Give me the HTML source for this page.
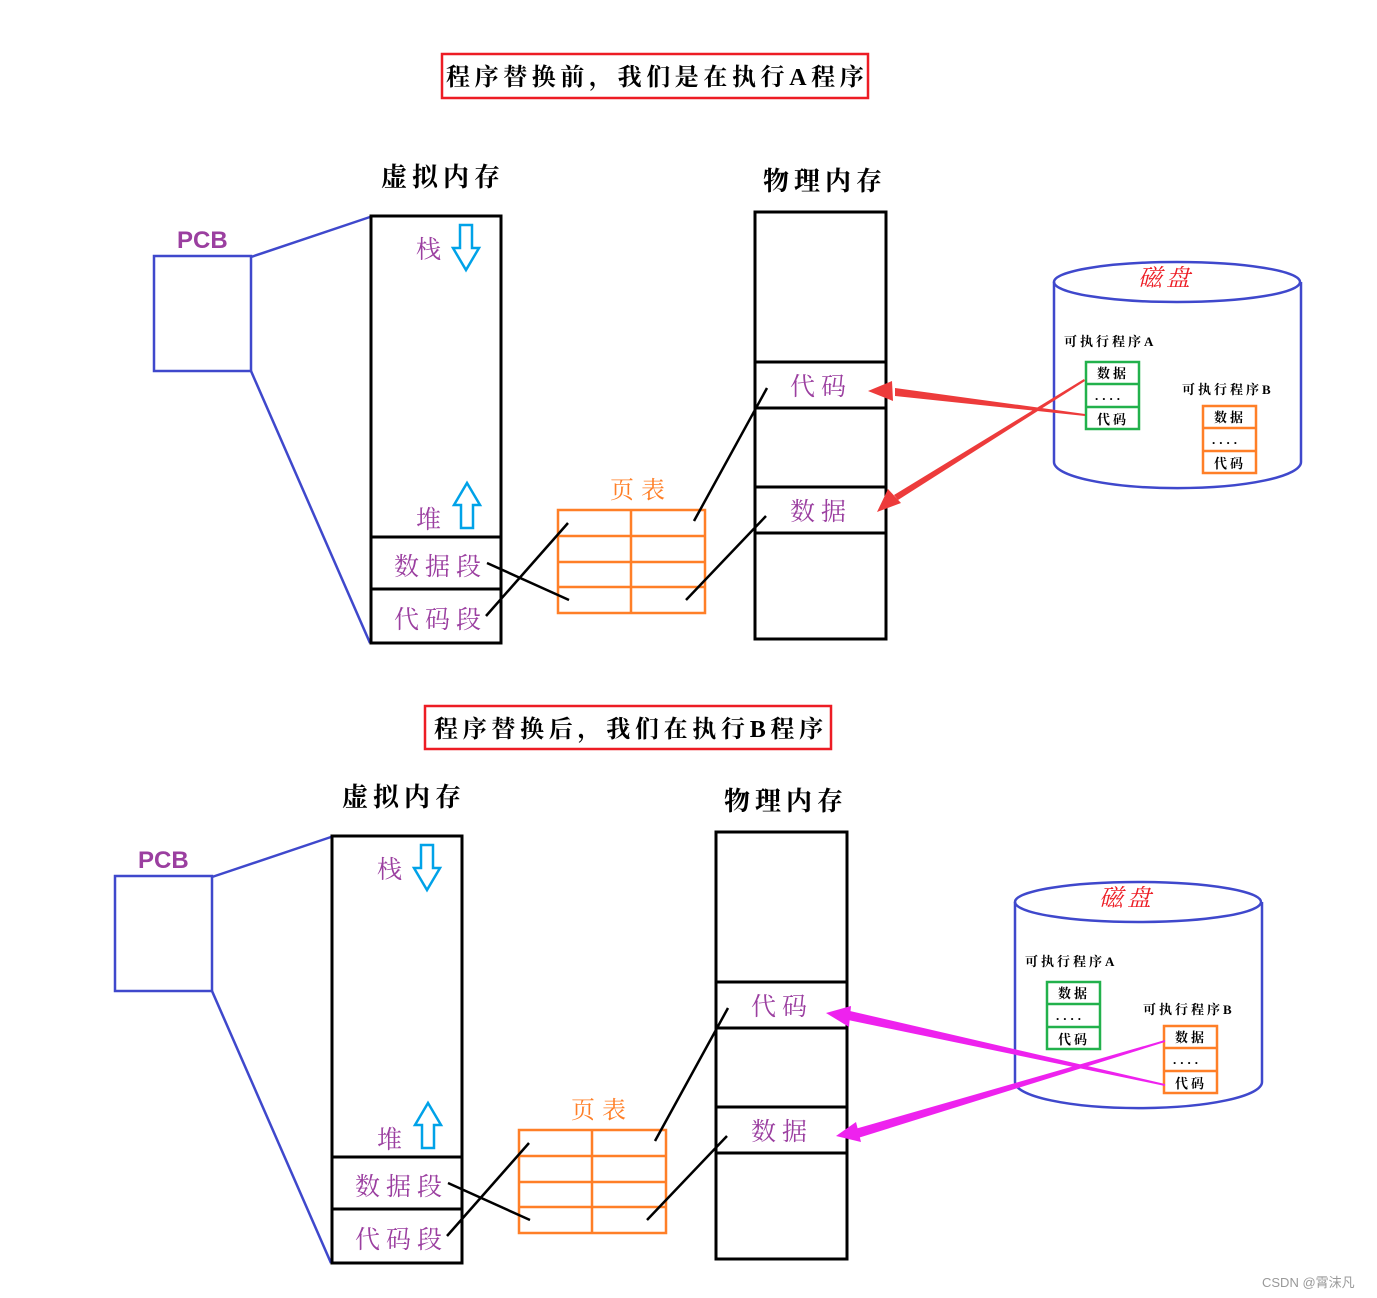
<!DOCTYPE html>
<html><head><meta charset="utf-8"><style>
html,body{margin:0;padding:0;background:#fff}
svg{display:block}
text{font-family:"Liberation Serif","Noto Serif CJK SC",serif}
.p{fill:#9b3fa0;font-size:25px;letter-spacing:6px}
.h{fill:#000;font-size:26px;font-weight:bold;letter-spacing:5px}
.s{fill:#000;font-size:13px;font-weight:bold;letter-spacing:3px}
.d{fill:#000;font-size:13px;font-weight:bold;letter-spacing:4px}
</style></head><body>
<svg width="1377" height="1298" viewBox="0 0 1377 1298" xmlns="http://www.w3.org/2000/svg">
<defs>
<g id="sec">
 <text x="177" y="248" style="font-family:'Liberation Sans',sans-serif;font-weight:bold;font-size:24px;fill:#9b3fa0">PCB</text>
 <rect x="154" y="256" width="97" height="115" fill="none" stroke="#3f48cc" stroke-width="2.5"/>
 <line x1="251" y1="257" x2="370" y2="217" stroke="#3f48cc" stroke-width="2.5"/>
 <line x1="251" y1="371" x2="370" y2="643" stroke="#3f48cc" stroke-width="2.5"/>
 <text x="381" y="186" class="h">虚拟内存</text>
 <rect x="371" y="216" width="130" height="427" fill="none" stroke="#000" stroke-width="3"/>
 <line x1="371" y1="537" x2="501" y2="537" stroke="#000" stroke-width="3"/>
 <line x1="371" y1="589" x2="501" y2="589" stroke="#000" stroke-width="3"/>
 <text x="416" y="258" class="p">栈</text>
 <text x="416" y="528" class="p">堆</text>
 <text x="394" y="575" class="p">数据段</text>
 <text x="394" y="628" class="p">代码段</text>
 <polygon points="460,225 472,225 472,248 479,248 466,270 453,248 460,248" fill="none" stroke="#00a2e8" stroke-width="2.5"/>
 <polygon points="461,528 473,528 473,505 480,505 467,483 454,505 461,505" fill="none" stroke="#00a2e8" stroke-width="2.5"/>
 <text x="610" y="498" style="font-size:24px;fill:#ff7f27;letter-spacing:7px">页表</text>
 <rect x="558" y="510" width="147" height="103" fill="none" stroke="#ff7f27" stroke-width="2.5"/>
 <line x1="631" y1="510" x2="631" y2="613" stroke="#ff7f27" stroke-width="2.5"/>
 <line x1="558" y1="536" x2="705" y2="536" stroke="#ff7f27" stroke-width="2.5"/>
 <line x1="558" y1="562" x2="705" y2="562" stroke="#ff7f27" stroke-width="2.5"/>
 <line x1="558" y1="587" x2="705" y2="587" stroke="#ff7f27" stroke-width="2.5"/>
 <text x="763" y="190" class="h">物理内存</text>
 <rect x="755" y="212" width="131" height="427" fill="none" stroke="#000" stroke-width="3"/>
 <line x1="755" y1="362" x2="886" y2="362" stroke="#000" stroke-width="3"/>
 <line x1="755" y1="408" x2="886" y2="408" stroke="#000" stroke-width="3"/>
 <line x1="755" y1="487" x2="886" y2="487" stroke="#000" stroke-width="3"/>
 <line x1="755" y1="533" x2="886" y2="533" stroke="#000" stroke-width="3"/>
 <text x="790" y="395" class="p">代码</text>
 <text x="790" y="520" class="p">数据</text>
 <line x1="487" y1="563" x2="569" y2="600" stroke="#000" stroke-width="2.5"/>
 <line x1="486" y1="616" x2="568" y2="523" stroke="#000" stroke-width="2.5"/>
 <line x1="694" y1="521" x2="767" y2="388" stroke="#000" stroke-width="2.5"/>
 <line x1="686" y1="600" x2="766" y2="516" stroke="#000" stroke-width="2.5"/>
 <path d="M1054,282 L1054,462 M1301,282 L1301,462" stroke="#3f48cc" stroke-width="2.5" fill="none"/>
 <ellipse cx="1177" cy="282" rx="123" ry="20" fill="none" stroke="#3f48cc" stroke-width="2.5"/>
 <path d="M1054,462 A123,26 0 0 0 1301,462" fill="none" stroke="#3f48cc" stroke-width="2.5"/>
 <text x="1138" y="286" style="font-size:24px;fill:#ed1c24;font-style:italic;letter-spacing:4px">磁盘</text>
 <text x="1064" y="346" class="s">可执行程序A</text>
 <rect x="1086" y="362" width="53" height="67" fill="#fff" stroke="#22b14c" stroke-width="2.5"/>
 <line x1="1086" y1="384" x2="1139" y2="384" stroke="#22b14c" stroke-width="2.5"/>
 <line x1="1086" y1="407" x2="1139" y2="407" stroke="#22b14c" stroke-width="2.5"/>
 <text x="1097" y="378" class="s">数据</text>
 <text x="1095" y="400" class="d">....</text>
 <text x="1097" y="424" class="s">代码</text>
 <text x="1182" y="394" class="s">可执行程序B</text>
 <rect x="1203" y="406" width="53" height="67" fill="#fff" stroke="#ff7f27" stroke-width="2.5"/>
 <line x1="1203" y1="428" x2="1256" y2="428" stroke="#ff7f27" stroke-width="2.5"/>
 <line x1="1203" y1="451" x2="1256" y2="451" stroke="#ff7f27" stroke-width="2.5"/>
 <text x="1214" y="422" class="s">数据</text>
 <text x="1212" y="444" class="d">....</text>
 <text x="1214" y="468" class="s">代码</text>
</g>
</defs>

<use href="#sec"/>
<use href="#sec" transform="translate(-39,620)"/>

<rect x="442" y="54" width="426" height="44" fill="none" stroke="#ed1c24" stroke-width="2.5"/>
<text x="446" y="85" class="h" style="font-size:24px;letter-spacing:4.6px">程序替换前，我们是在执行A程序</text>
<rect x="425" y="706" width="406" height="43" fill="none" stroke="#ed1c24" stroke-width="2.5"/>
<text x="434" y="737" class="h" style="font-size:24px;letter-spacing:4.7px">程序替换后，我们在执行B程序</text>

<polygon points="1085,414 1085,416 895,396 895,388" fill="#ed3b3b"/>
<polygon points="868,391 892,381 893,401" fill="#ed3b3b"/>
<polygon points="1084,379 1085,381 898,500 894,495" fill="#ed3b3b"/>
<polygon points="877,512 888,489 901,503" fill="#ed3b3b"/>

<polygon points="1165,1084 1165,1086 848,1020 850,1011" fill="#ee22ee"/>
<polygon points="826,1013 851,1006 849,1027" fill="#ee22ee"/>
<polygon points="1165,1040 1165,1042 858,1138 855,1129" fill="#ee22ee"/>
<polygon points="836,1136 856,1122 861,1142" fill="#ee22ee"/>

<text x="1262" y="1287" style="font-family:'Liberation Sans','Noto Sans CJK SC',sans-serif;font-size:13px;fill:#999">CSDN @霄沫凡</text>
</svg>
</body></html>
